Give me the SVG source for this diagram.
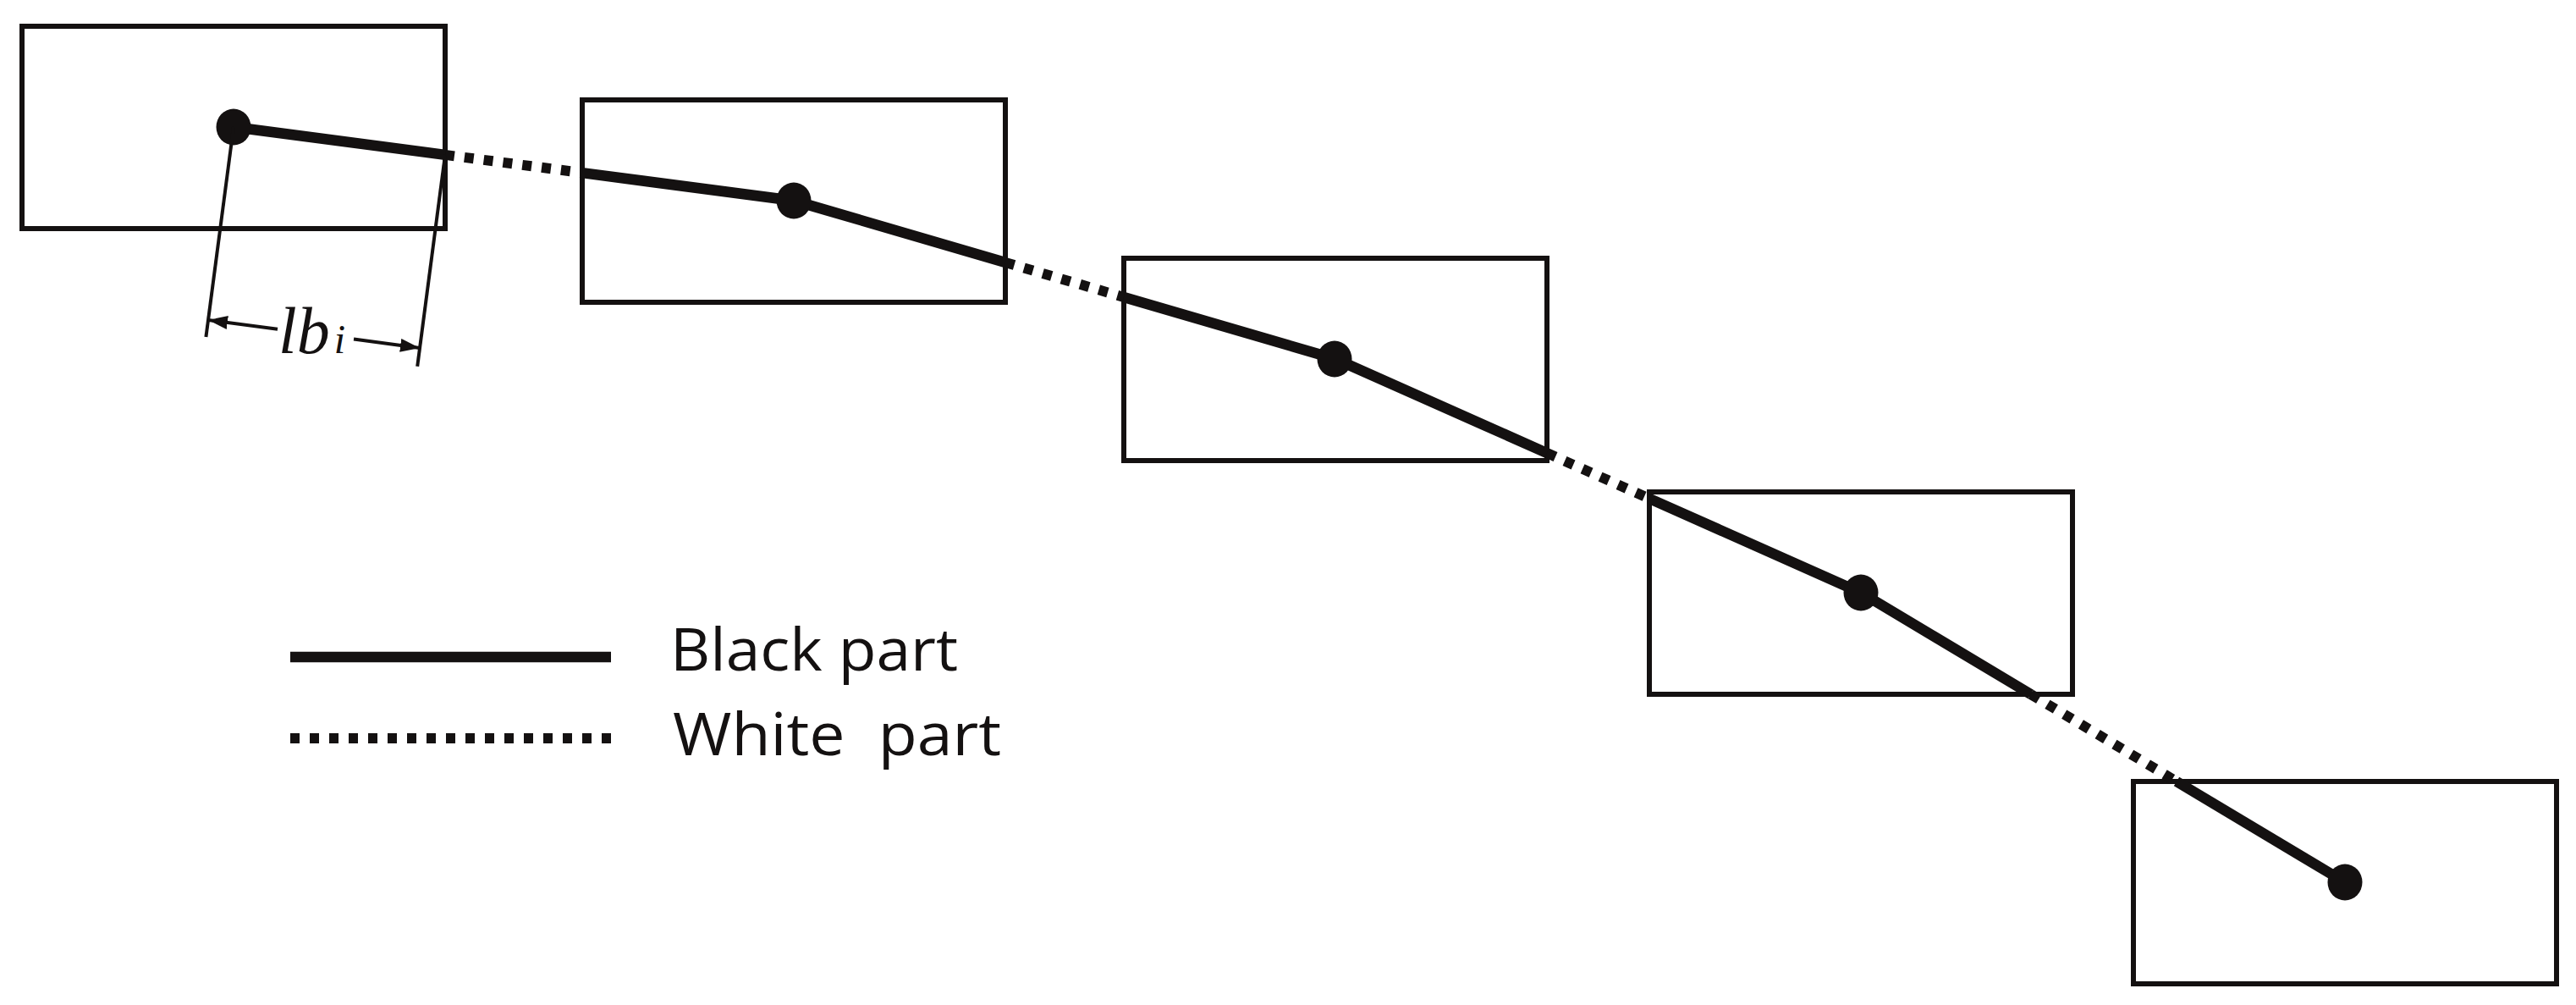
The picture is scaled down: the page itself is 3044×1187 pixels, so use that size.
<svg xmlns="http://www.w3.org/2000/svg" width="3044" height="1187" viewBox="0 0 3044 1187">
  <style>
    .box { fill: none; stroke: #141111; stroke-width: 6; }
    .solid { fill: none; stroke: #141111; stroke-width: 12.5; stroke-linecap: butt; }
    .dotted { fill: none; stroke: #141111; stroke-width: 12; stroke-dasharray: 11 12; stroke-linecap: butt; }
    .dot { fill: #141111; }
    .thin { fill: none; stroke: #141111; stroke-width: 4; }
    .legend { font-family: "Open Sans", "Noto Sans", sans-serif; font-size: 69px; fill: #141111; white-space: pre; }
    .dim { font-family: "Liberation Serif", "Times New Roman", serif; font-style: italic; fill: #141111; }
  </style>
  <defs>
    <marker id="arrow" markerUnits="userSpaceOnUse" markerWidth="26" markerHeight="18" refX="23" refY="8" orient="auto">
      <path d="M0,0 L23,8 L0,16 Z" fill="#141111"/>
    </marker>
  </defs>
  <rect width="3044" height="1187" fill="#fff"/>

  <g id="node1">
    <rect class="box" x="26" y="31" width="500" height="239"/>
  </g>
  <g id="node2">
    <rect class="box" x="688" y="118" width="500" height="239"/>
  </g>
  <g id="node3">
    <rect class="box" x="1328" y="305" width="500" height="239"/>
  </g>
  <g id="node4">
    <rect class="box" x="1949" y="581" width="500" height="239"/>
  </g>
  <g id="node5">
    <rect class="box" x="2521" y="923" width="500" height="239"/>
  </g>

  <g id="connectors">
    <polyline class="solid" points="276,150 526,182.9"/>
    <polyline class="dotted" points="526,182.9 688,204.1"/>
    <polyline class="solid" points="688,204.1 938,237 1188,310"/>
    <polyline class="dotted" points="1188,310 1328,351"/>
    <polyline class="solid" points="1328,351 1578,424 1828,535.1"/>
    <polyline class="dotted" points="1828,535.1 1949,588.9"/>
    <polyline class="solid" points="1949,588.9 2199,700 2399.7,820"/>
    <polyline class="dotted" points="2399.7,820 2572,923"/>
    <polyline class="solid" points="2572,923 2771,1042"/>
  </g>

  <g id="points">
    <ellipse class="dot" cx="276" cy="150" rx="20.5" ry="21.5"/>
    <ellipse class="dot" cx="938" cy="237" rx="20.5" ry="21.5"/>
    <ellipse class="dot" cx="1577" cy="424" rx="20.5" ry="21.5"/>
    <ellipse class="dot" cx="2199" cy="700" rx="20.5" ry="21.5"/>
    <ellipse class="dot" cx="2771" cy="1042" rx="20.5" ry="21.5"/>
  </g>

  <g id="dimension">
    <line class="thin" x1="276" y1="150" x2="243.4" y2="398"/>
    <line class="thin" x1="526" y1="182.9" x2="493.2" y2="432.8"/>
    <line class="thin" x1="328" y1="388.8" x2="246" y2="378" marker-end="url(#arrow)"/>
    <line class="thin" x1="418" y1="400.6" x2="496" y2="410.9" marker-end="url(#arrow)"/>
    <text class="dim" x="329" y="417" font-size="78">lb<tspan font-size="48" dx="5">i</tspan></text>
  </g>

  <g id="legend">
    <line class="solid" x1="343" y1="776" x2="722" y2="776"/>
    <line class="dotted" x1="343" y1="872" x2="722" y2="872"/>
    <text class="legend" x="792" y="792" textLength="340" lengthAdjust="spacingAndGlyphs">Black part</text>
    <text class="legend" x="795" y="892" xml:space="preserve" textLength="388" lengthAdjust="spacingAndGlyphs">White  part</text>
  </g>
</svg>
